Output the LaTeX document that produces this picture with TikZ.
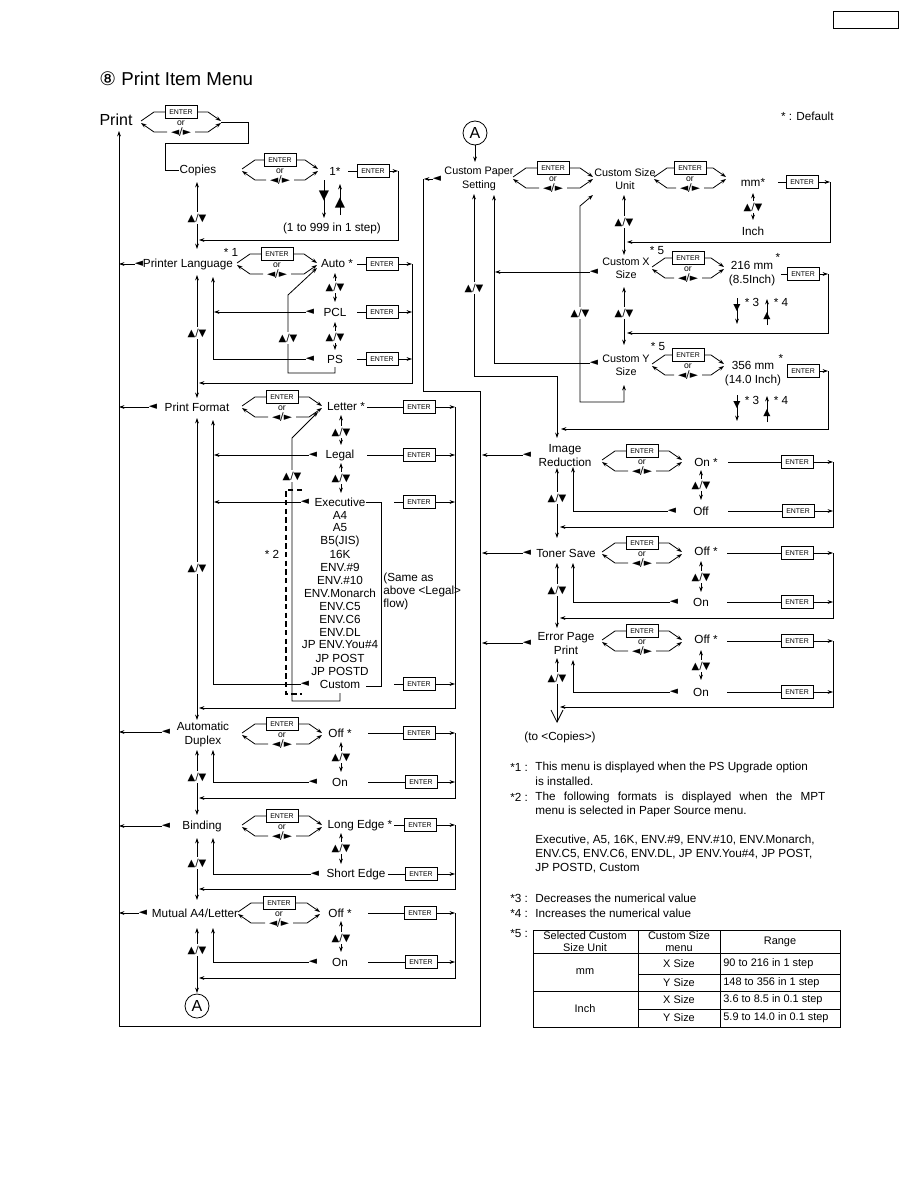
\documentclass[tikz,border=0pt]{standalone}
\usepackage{fontspec}
\setmainfont{Liberation Sans}
\newfontfamily\dejavu{DejaVu Sans}
\usetikzlibrary{arrows.meta}

\tikzset{
  txt/.style={font=\fontsize{8.8}{10.5}\selectfont, inner sep=0pt, align=center},
  txts/.style={font=\fontsize{8.1}{10}\selectfont, inner sep=0pt, align=center},
  note/.style={font=\fontsize{8.8}{10.5}\selectfont, inner sep=0pt, anchor=west},
  tbl/.style={font=\fontsize{8.2}{9}\selectfont, inner sep=0pt, align=center},
  orlbl/.style={font=\fontsize{6.5}{7}\selectfont, inner sep=0pt},
  keylbl/.style={font=\dejavu\fontsize{8}{8}\selectfont, inner sep=0pt},
  enterbox/.style={draw, font=\fontsize{5.2}{6}\selectfont, minimum width=24pt, minimum height=9.5pt, inner sep=0pt},
  updown/.style={font=\dejavu\fontsize{7.5}{8}\selectfont, fill=white, inner sep=1pt},
  tri/.style={font=\dejavu\fontsize{8}{8}\selectfont, inner sep=0pt},
  bigtri/.style={font=\dejavu\fontsize{10}{10}\selectfont, inner sep=0pt},
  smalltri/.style={font=\dejavu\fontsize{7}{7}\selectfont, inner sep=0pt},
  circA/.style={draw, circle, minimum size=18pt, inner sep=0pt, font=\fontsize{12}{14}\selectfont},
  pics/switch/.style={code={
    \draw ({-#1},-1) -- ({-#1+13},-10) -- (-16,-10);
    \draw[->] (16,-10) -- ({#1-13},-10) -- (#1,-1);
    \draw[->] (-14,10) -- ({-#1+13},10) -- ({-#1},1);
    \draw[->] (14,10) -- ({#1-13},10) -- (#1,1);
    \node[enterbox] (-e) at (0,-10) {ENTER};
    \node[orlbl] (-or) at (0,1) {or};
    \node[keylbl] (-k) at (0,10) {◄/►};
  }}
}

\begin{document}
\begin{tikzpicture}[x=0.75pt, y=-0.75pt, >={Stealth[length=4pt,width=2.8pt]}, line width=0.6pt]
\useasboundingbox (0,0) rectangle (918,1188);
\node[draw, minimum width=48.75pt, minimum height=12.75pt, inner sep=0pt] (pgbox) at (865.5,19.5) {};
\node[anchor=west, inner sep=0pt, font=\fontsize{14}{16}\selectfont] (title) at (99,79) {{\dejavu ⑧} Print Item Menu};
\node[txt, anchor=east] (dflt) at (834,116) {* : Default};

% Print / Copies
\node[inner sep=0pt, font=\fontsize{12}{14}\selectfont] (print) at (116,120) {Print};
\pic (swP) at (181,122) {switch=40};
\node[txt] (copies) at (198,170) {Copies};
\draw (221,122) -- (248,122) -- (248,143) -- (165,143) -- (165,170) -- (copies.west);
\pic (swC) at (280,170) {switch=38};
\node[txt] (c1) at (335,171) {1*};
\node[enterbox] (eC) at (373,171) {ENTER};
\draw (348,171) -- (eC.west); \draw[->] (eC.east) -- (398,171);
\draw[->] (398,171) -- (398,240) -- (199,240);
\draw[->] (324,180) -- (324,218); \node[bigtri] (cdn) at (324,196) {▼};
\draw[->] (340,215) -- (340,184); \node[bigtri] (cup) at (340,203) {▲};
\node[txt] (crange) at (332,228) {(1 to 999 in 1 step)};
\draw[<->] (197,182) -- (197,249); \node[updown] (ud1) at (197,218) {▲/▼};

% Printer Language
\node[txt] (plang) at (188,264) {Printer Language};
\node[txt] (n1) at (231,252) {* 1};
\node[tri] (tPL) at (139,264) {◄}; \draw[->] (tPL.west) -- (119,264);
\pic (swPL) at (277,264) {switch=40};
\node[txt] (auto) at (337,264) {Auto *};
\node[enterbox] (ePL1) at (382,264) {ENTER}; \draw (357,264) -- (ePL1.west); \draw[->] (ePL1.east) -- (412,264);
\draw[<->] (335,273) -- (335,302); \node[updown] (ud2) at (335,287) {▲/▼};
\node[tri] (tPCL) at (310,312) {◄}; \node[txt] (pcl) at (335,312) {PCL};
\draw[->] (tPCL.west) -- (214,312);
\node[enterbox] (ePL2) at (382,312) {ENTER}; \draw (357,312) -- (ePL2.west); \draw[->] (ePL2.east) -- (412,312);
\draw[<->] (335,322) -- (335,350); \node[updown] (ud3) at (335,337) {▲/▼};
\node[tri] (tPS) at (310,359) {◄}; \node[txt] (ps) at (335,359) {PS};
\draw[->] (tPS.west) -- (213,359) -- (213,277);
\node[enterbox] (ePL3) at (382,359) {ENTER}; \draw (357,359) -- (ePL3.west); \draw[->] (ePL3.east) -- (412,359);
\draw[->] (335,367) -- (335,373) -- (288,373) -- (288,295) -- (317,268); \node[updown] (ud4) at (288,338) {▲/▼};
\draw[->] (412,264) -- (412,383) -- (199,383);
\draw[<->] (197,275) -- (197,398); \node[updown] (ud5) at (197,333) {▲/▼};

% Print Format
\node[txt] (pfmt) at (197,407) {Print Format};
\node[tri] (tPF) at (153,407) {◄}; \draw[->] (tPF.west) -- (119,407);
\pic (swPF) at (282,407) {switch=40};
\node[txt] (letter) at (346,407) {Letter *};
\node[enterbox] (ePF1) at (419,407) {ENTER}; \draw (367,407) -- (ePF1.west); \draw[->] (ePF1.east) -- (455,407);
\draw[<->] (341,415) -- (341,445); \node[updown] (ud6) at (341,432) {▲/▼};
\node[tri] (tLg) at (313,455) {◄}; \node[txt] (legal) at (340,455) {Legal};
\draw[->] (tLg.west) -- (214,455);
\node[enterbox] (ePF2) at (419,455) {ENTER}; \draw (367,455) -- (ePF2.west); \draw[->] (ePF2.east) -- (455,455);
\draw[<->] (341,463) -- (341,493); \node[updown] (ud7) at (341,478) {▲/▼};
\node[tri] (tEx) at (305,502) {◄}; \node[txt] (exec) at (340,502) {Executive};
\draw[->] (tEx.west) -- (214,502);
\node[enterbox] (ePF3) at (419,502) {ENTER}; \draw (394,502) -- (ePF3.west); \draw[->] (ePF3.east) -- (455,502);
\foreach \s [count=\i] in {A4,A5,{B5(JIS)},16K,ENV.\#9,ENV.\#10,ENV.Monarch,ENV.C5,ENV.C6,ENV.DL,JP ENV.You\#4,JP POST,JP POSTD}
  \node[txt] (fmt\i) at (340,{502+13*\i}) {\s};
\node[tri] (tCu) at (305,684) {◄}; \node[txt] (custom) at (340,684) {Custom};
\draw[->] (tCu.west) -- (213,684) -- (213,420);
\node[enterbox] (ePF4) at (419,684) {ENTER}; \draw (394,684) -- (ePF4.west); \draw[->] (ePF4.east) -- (455,684);
\draw (exec.east) -- (381,502) -- (381,686) -- (366,686);
\node[txt, align=left, anchor=west, font=\fontsize{8.8}{9.75}\selectfont] (same) at (383,591) {(Same as\\above <Legal>\\flow)};
\draw[->] (340,693) -- (340,701) -- (292,701) -- (292,438) -- (318,412); \node[updown] (ud8) at (292,476) {▲/▼};
\draw[line width=1pt, dash pattern=on 4pt off 2.5pt] (302,490) -- (286,490) -- (286,694) -- (302,694); \node[txt] (n2) at (272,554) {* 2};
\draw[->] (455,407) -- (455,708) -- (199,708);
\draw[<->] (197,418) -- (197,720); \node[updown] (ud9) at (197,568) {▲/▼};

% Automatic Duplex
\node[txt] (adup) at (203,734) {Automatic\\Duplex};
\node[tri] (tAD) at (166,732) {◄}; \draw[->] (tAD.west) -- (119,732);
\pic (swAD) at (282,734) {switch=40};
\node[txt] (adoff) at (340,733) {Off *};
\node[enterbox] (eAD1) at (419,733) {ENTER}; \draw (368,733) -- (eAD1.west); \draw[->] (eAD1.east) -- (455,733);
\draw[<->] (341,742) -- (341,772); \node[updown] (ud10) at (341,757) {▲/▼};
\node[tri] (tADo) at (313,782) {◄}; \node[txt] (adon) at (340,782) {On};
\draw[->] (tADo.west) -- (213,782) -- (213,750);
\node[enterbox] (eAD2) at (421,782) {ENTER}; \draw (368,782) -- (eAD2.west); \draw[->] (eAD2.east) -- (455,782);
\draw[->] (455,733) -- (455,798) -- (199,798);
\draw[<->] (197,750) -- (197,815); \node[updown] (ud11) at (197,777) {▲/▼};

% Binding
\node[txt] (bind) at (202,826) {Binding};
\node[tri] (tBi) at (166,826) {◄}; \draw[->] (tBi.west) -- (119,826);
\pic (swBi) at (282,826) {switch=40};
\node[txt] (long) at (360,825) {Long Edge *};
\node[enterbox] (eBi1) at (420,825) {ENTER}; \draw (394,825) -- (eBi1.west); \draw[->] (eBi1.east) -- (455,825);
\draw[<->] (341,833) -- (341,864); \node[updown] (ud12) at (341,848) {▲/▼};
\node[tri] (tBs) at (315,874) {◄}; \node[txt] (short) at (356,874) {Short Edge};
\draw[->] (tBs.west) -- (213,874) -- (213,838);
\node[enterbox] (eBi2) at (421,874) {ENTER}; \draw (388,874) -- (eBi2.west); \draw[->] (eBi2.east) -- (455,874);
\draw[->] (455,825) -- (455,889) -- (199,889);
\draw[<->] (197,838) -- (197,900); \node[updown] (ud13) at (197,863) {▲/▼};

% Mutual A4/Letter
\node[txt] (mutual) at (195,913) {Mutual A4/Letter};
\node[tri] (tMu) at (143,913) {◄}; \draw[->] (tMu.west) -- (119,913);
\pic (swMu) at (279,913) {switch=41};
\node[txt] (muoff) at (340,913) {Off *};
\node[enterbox] (eMu1) at (420,913) {ENTER}; \draw (368,913) -- (eMu1.west); \draw[->] (eMu1.east) -- (455,913);
\draw[<->] (341,921) -- (341,952); \node[updown] (ud14) at (341,938) {▲/▼};
\node[tri] (tMuo) at (313,962) {◄}; \node[txt] (muon) at (340,962) {On};
\draw[->] (tMuo.west) -- (213,962) -- (213,928);
\node[enterbox] (eMu2) at (421,962) {ENTER}; \draw (368,962) -- (eMu2.west); \draw[->] (eMu2.east) -- (455,962);
\draw[->] (455,913) -- (455,978) -- (199,978);
\draw[<->] (197,928) -- (197,993); \node[updown] (ud15) at (197,950) {▲/▼};
\node[circA] (cA1) at (197,1006) {A};

% Custom Paper Setting
\node[circA] (cA2) at (475,133) {A};
\draw[->] (cA2.south) -- (475,162);
\node[txts] (cps) at (479,179) {Custom Paper\\Setting};
\node[tri] (tCP) at (437,179) {◄}; \draw[->] (tCP.west) -- (424,179);
\draw[->] (423,179) -- (423,391) -- (480,391) -- (480,1026) -- (119,1026) -- (119,131);
\pic (swCP) at (553,178) {switch=40};
\node[txts] (csu) at (625,179) {Custom Size\\Unit};
\pic (swCU) at (690,178) {switch=36};
\node[txt] (mm) at (753,182) {mm*};
\node[enterbox] (eCU) at (802,182) {ENTER}; \draw (778,182) -- (eCU.west); \draw[->] (eCU.east) -- (830,182);
\draw[<->] (753,193) -- (753,220); \node[updown] (ud16) at (753,207) {▲/▼};
\node[txt] (inch) at (753,231) {Inch};
\draw[->] (830,182) -- (830,242) -- (627,242);
\draw[<->] (624,195) -- (624,255); \node[updown] (ud17) at (624,222) {▲/▼};
\node[txt] (n5a) at (657,251) {* 5};

\node[txts] (cxs) at (626,268) {Custom X\\Size};
\node[tri] (tCX) at (594,272) {◄}; \draw[->] (tCX.west) -- (495,272);
\pic (swCX) at (688,268) {switch=36};
\node[txt] (x216) at (752,265) {216 mm}; \node[txt] (xst) at (778,257) {*};
\node[txt] (x85) at (752,280) {(8.5Inch)};
\node[enterbox] (eCX) at (803,274) {ENTER}; \draw (781,274) -- (eCX.west); \draw[->] (eCX.east) -- (828,274);
\draw[->] (737,298) -- (737,324); \node[smalltri] (x3t) at (737,308) {▼}; \node[txt] (x3) at (752,302) {* 3};
\draw[->] (767,325) -- (767,299); \node[smalltri] (x4t) at (767,316) {▲}; \node[txt] (x4) at (781,302) {* 4};
\draw[->] (828,274) -- (828,333) -- (627,333);
\draw[<->] (624,287) -- (624,345); \node[updown] (ud18) at (624,313) {▲/▼};
\node[txt] (n5b) at (658,347) {* 5};

\node[txts] (cys) at (626,365) {Custom Y\\Size};
\node[tri] (tCY) at (594,363) {◄}; \draw[->] (tCY.west) -- (494,363) -- (494,195);
\pic (swCY) at (688,365) {switch=36};
\node[txt] (y356) at (753,365) {356 mm}; \node[txt] (yst) at (781,358) {*};
\node[txt] (y14) at (753,380) {(14.0 Inch)};
\node[enterbox] (eCY) at (803,371) {ENTER}; \draw[->] (eCY.east) -- (828,371);
\draw[->] (737,395) -- (737,421); \node[smalltri] (y3t) at (737,405) {▼}; \node[txt] (y3) at (752,400) {* 3};
\draw[->] (767,422) -- (767,396); \node[smalltri] (y4t) at (767,413) {▲}; \node[txt] (y4) at (781,400) {* 4};
\draw[->] (828,371) -- (828,429) -- (561,429);
\draw[<->] (624,385) -- (624,402) -- (580,402) -- (580,206) -- (593,195); \node[updown] (ud19) at (580,313) {▲/▼};
\draw[<->] (474,194) -- (474,376) -- (557,376) -- (557,438); \node[updown] (ud20) at (474,288) {▲/▼};

% Image Reduction
\node[txt] (imgr) at (565,456) {Image\\Reduction};
\node[tri] (tIR) at (527,455) {◄}; \draw[->] (tIR.west) -- (482,455);
\pic (swIR) at (642,461) {switch=40};
\node[txt] (iron) at (706,462) {On *};
\node[enterbox] (eIR1) at (797,462) {ENTER}; \draw (728,462) -- (eIR1.west); \draw[->] (eIR1.east) -- (833,462);
\draw[<->] (701,470) -- (701,500); \node[updown] (ud21) at (701,485) {▲/▼};
\node[tri] (tIRo) at (672,511) {◄}; \node[txt] (iroff) at (701,511) {Off};
\draw[->] (tIRo.west) -- (573,511) -- (573,467);
\node[enterbox] (eIR2) at (798,511) {ENTER}; \draw (728,511) -- (eIR2.west); \draw[->] (eIR2.east) -- (833,511);
\draw[->] (833,462) -- (833,527) -- (560,527);
\draw[<->] (557,468) -- (557,538); \node[updown] (ud22) at (557,498) {▲/▼};

% Toner Save
\node[txt] (toner) at (566,553) {Toner Save};
\node[tri] (tTS) at (527,553) {◄}; \draw[->] (tTS.west) -- (482,553);
\pic (swTS) at (642,553) {switch=40};
\node[txt] (tsoff) at (706,551) {Off *};
\node[enterbox] (eTS1) at (797,553) {ENTER}; \draw (727,553) -- (eTS1.west); \draw[->] (eTS1.east) -- (833,553);
\draw[<->] (701,561) -- (701,592); \node[updown] (ud23) at (701,577) {▲/▼};
\node[tri] (tTSo) at (674,602) {◄}; \node[txt] (tson) at (701,602) {On};
\draw[->] (tTSo.west) -- (573,602) -- (573,563);
\node[enterbox] (eTS2) at (797,602) {ENTER}; \draw (727,602) -- (eTS2.west); \draw[->] (eTS2.east) -- (833,602);
\draw[->] (833,553) -- (833,618) -- (560,618);
\draw[<->] (557,563) -- (557,628); \node[updown] (ud24) at (557,590) {▲/▼};

% Error Page Print
\node[txt] (errp) at (566,644) {Error Page\\Print};
\node[tri] (tEP) at (527,643) {◄}; \draw[->] (tEP.west) -- (482,643);
\pic (swEP) at (642,641) {switch=40};
\node[txt] (epoff) at (706,639) {Off *};
\node[enterbox] (eEP1) at (797,641) {ENTER}; \draw (727,641) -- (eEP1.west); \draw[->] (eEP1.east) -- (833,641);
\draw[<->] (701,650) -- (701,680); \node[updown] (ud25) at (701,666) {▲/▼};
\node[tri] (tEPo) at (674,692) {◄}; \node[txt] (epon) at (701,692) {On};
\draw[->] (tEPo.west) -- (573,692) -- (573,660);
\node[enterbox] (eEP2) at (797,692) {ENTER}; \draw (727,692) -- (eEP2.west); \draw[->] (eEP2.east) -- (833,692);
\draw[->] (833,641) -- (833,707) -- (560,707);
\draw[{Stealth[length=4pt,width=2.8pt]}-{Straight Barb[length=9pt,width=9pt]}] (557,658) -- (557,723); \node[updown] (ud26) at (557,678) {▲/▼};
\node[txt] (toc) at (560,737) {(to <Copies>)};

% notes
\node[note] (k1) at (510,767) {*1 :}; \node[note] (t1) at (535,767) {This menu is displayed when the PS Upgrade option};
\node[note] (t1b) at (535,781) {is installed.};
\node[note] (k2) at (510,797) {*2 :}; \node[note] (t2) at (535,797) {\makebox[217.5pt][s]{The following formats is displayed when the MPT}};
\node[note] (t2b) at (535,811) {menu is selected in Paper Source menu.};
\node[note] (t2c) at (535,840) {Executive, A5, 16K, ENV.\#9, ENV.\#10, ENV.Monarch,};
\node[note] (t2d) at (535,854) {ENV.C5, ENV.C6, ENV.DL, JP ENV.You\#4, JP POST,};
\node[note] (t2e) at (535,868) {JP POSTD, Custom};
\node[note] (k3) at (510,898) {*3 :}; \node[note] (t3) at (535,898) {Decreases the numerical value};
\node[note] (k4) at (510,913) {*4 :}; \node[note] (t4) at (535,913) {Increases the numerical value};
\node[note] (k5) at (510,934) {*5 :};

% table
\draw (533,930) rectangle (840,1027);
\draw (638,930) -- (638,1027); \draw (720,930) -- (720,1027);
\draw (533,953) -- (840,953); \draw (638,974) -- (840,974); \draw (533,991) -- (840,991); \draw (638,1009) -- (840,1009);
\node[tbl] (h1) at (585,942) {Selected Custom\\Size Unit};
\node[tbl] (h2) at (679,942) {Custom Size\\menu};
\node[tbl] (h3) at (780,942) {Range};
\node[tbl] (rmm) at (585,972) {mm}; \node[tbl] (rin) at (585,1009) {Inch};
\node[tbl] (m1) at (679,964) {X Size}; \node[tbl] (m2) at (679,983) {Y Size};
\node[tbl] (m3) at (679,1000) {X Size}; \node[tbl] (m4) at (679,1018) {Y Size};
\node[tbl, anchor=west] (r1) at (723,964) {90 to 216 in 1 step};
\node[tbl, anchor=west] (r2) at (723,983) {148 to 356 in 1 step};
\node[tbl, anchor=west] (r3) at (723,1000) {3.6 to 8.5 in 0.1 step};
\node[tbl, anchor=west] (r4) at (723,1018) {5.9 to 14.0 in 0.1 step};
\end{tikzpicture}
\end{document}
